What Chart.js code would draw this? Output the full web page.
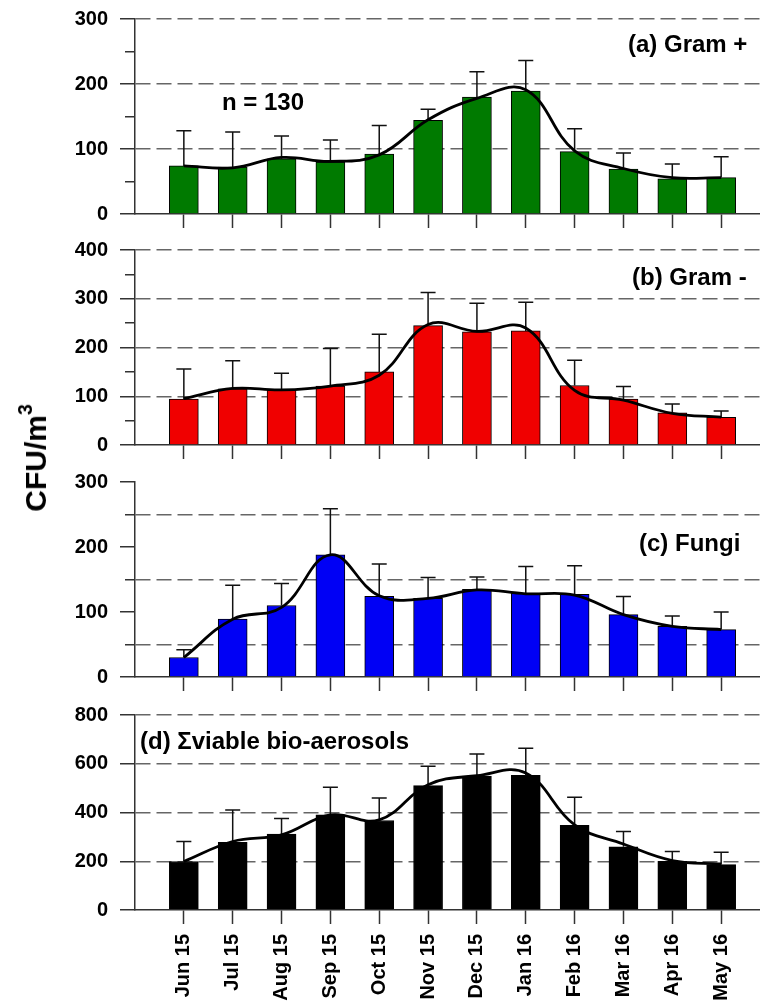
<!DOCTYPE html>
<html>
<head>
<meta charset="utf-8">
<script src="https://cdn.jsdelivr.net/npm/chart.js@4.4.1/dist/chart.umd.min.js"></script>
<style>
  html, body { margin: 0; padding: 0; background: #fff; }
  #wrap { position: relative; width: 760px; height: 1006px; overflow: hidden;
          font-family: "Liberation Sans", Arial, sans-serif; }
  canvas { position: absolute; left: 0; }
  .lbl { position: absolute; font-weight: bold; font-size: 24px; line-height: 24px;
         white-space: nowrap; color: #000; }
  #ytitle { position: absolute; left: 36px; top: 458px; font-weight: bold; font-size: 30px;
            line-height: 30px; white-space: nowrap;
            transform: translate(-50%, -50%) rotate(-90deg); }
  #ytitle sup { font-size: 0.65em; vertical-align: 0.7em; line-height: 0; }
</style>
</head>
<body>
<div id="wrap">
  <canvas id="pa" width="780" height="243" style="top:-5px"></canvas>
  <canvas id="pb" width="780" height="243" style="top:226px"></canvas>
  <canvas id="pc" width="780" height="243" style="top:458px"></canvas>
  <canvas id="pd" width="780" height="315" style="top:691px"></canvas>

  <div class="lbl" style="left:628px; top:32px">(a) Gram +</div>
  <div class="lbl" style="left:222px; top:90px">n = 130</div>
  <div class="lbl" style="left:632px; top:265px">(b) Gram -</div>
  <div class="lbl" style="left:639px; top:531px">(c) Fungi</div>
  <div class="lbl" style="left:140px; top:729px">(d) &Sigma;viable bio-aerosols</div>
  <div id="ytitle">CFU/m<sup>3</sup></div>
</div>

<script>
// monthly means, upper error (sd) and smoothed curve
const months = ["Jun 15", "Jul 15", "Aug 15", "Sep 15", "Oct 15", "Nov 15",
                "Dec 15", "Jan 16", "Feb 16", "Mar 16", "Apr 16", "May 16"];

const gramPos    = [74, 72, 85, 80, 92, 144, 180, 189, 96, 69, 54, 56];
const gramPosSd  = [54, 54, 35, 34, 44, 17, 39, 47, 35, 25, 23, 32];
const gramPosFit = [74, 71, 87, 81, 91, 145, 178, 191, 97, 70, 56, 56];

const gramNeg    = [94, 115, 113, 121, 150, 245, 232, 234, 122, 94, 66, 57];
const gramNegSd  = [62, 58, 34, 77, 77, 68, 59, 59, 52, 26, 18, 13];
const gramNegFit = [95, 116, 113, 121, 143, 247, 233, 240, 112, 92, 65, 57];

const fungi      = [30, 89, 110, 188, 124, 121, 135, 129, 127, 96, 78, 73];
const fungiSd    = [12, 52, 34, 71, 50, 32, 19, 41, 44, 28, 16, 27];
const fungiFit   = [30, 89, 107, 188, 125, 121, 134, 128, 126, 96, 78, 73];

const total      = [199, 278, 311, 390, 367, 510, 549, 552, 347, 259, 200, 186];
const totalSd    = [82, 132, 64, 114, 93, 80, 91, 112, 116, 63, 40, 51];
const totalFit   = [199, 281, 308, 390, 370, 514, 551, 562, 349, 271, 203, 189];

const FONT = '"Liberation Sans", Arial, sans-serif';
Chart.defaults.font.family = FONT;

// upward error bars drawn right after the bars
const errorBars = {
  id: "errorBars",
  afterDatasetDraw(chart, args) {
    if (args.index !== 0) return;
    const xs = chart.scales.x, ys = chart.scales.y;
    const ds = chart.data.datasets[0];
    const ctx = chart.ctx;
    ctx.save();
    ctx.strokeStyle = "#111";
    ctx.lineWidth = 1.5;
    ds.data.forEach(function (p, i) {
      const x = xs.getPixelForValue(p.x);
      const y0 = ys.getPixelForValue(p.y);
      const y1 = ys.getPixelForValue(p.y + ds.errors[i]);
      ctx.beginPath();
      ctx.moveTo(x, y0);
      ctx.lineTo(x, y1);
      ctx.moveTo(x - 7.5, y1);
      ctx.lineTo(x + 7.5, y1);
      ctx.stroke();
    });
    ctx.restore();
  }
};

function makePanel(id, vals, sd, fit, color, yMax, step, labelEvery, dashOnMinor, showMonths) {
  const bottomH = showMonths ? 96 : 24;
  const isDashed = function (v) {
    if (v <= 0) return false;
    const major = v % labelEvery === 0;
    return dashOnMinor ? !major : major;
  };

  new Chart(document.getElementById(id), {
    type: "bar",
    data: {
      datasets: [
        {
          type: "bar",
          data: vals.map((v, i) => ({ x: i, y: v })),
          errors: sd,
          backgroundColor: color,
          borderColor: "#000",
          borderWidth: 1,
          barThickness: 29,
          order: 1
        },
        {
          type: "line",
          data: fit.map((v, i) => ({ x: i, y: v })),
          borderColor: "#000",
          borderWidth: 2.8,
          pointRadius: 0,
          tension: 0.4,
          fill: false,
          order: 0
        }
      ]
    },
    options: {
      responsive: false,
      animation: false,
      layout: { padding: { top: 24, right: 10, bottom: 0, left: 0 } },
      plugins: { legend: { display: false }, tooltip: { enabled: false } },
      scales: {
        x: {
          type: "linear",
          min: -1,
          max: 12,
          offset: false,
          afterBuildTicks: function (s) {
            s.ticks = s.ticks.filter(t => t.value >= 0 && t.value <= 11);
          },
          afterFit: function (s) { s.height = bottomH; },
          ticks: {
            stepSize: 1,
            display: showMonths,
            autoSkip: false,
            minRotation: 90,
            maxRotation: 90,
            padding: 10,
            color: "#000",
            font: { size: 20, weight: "bold" },
            callback: v => months[v]
          },
          grid: { offset: false, drawOnChartArea: false, drawTicks: true, tickLength: 14,
                  tickColor: "#333", tickWidth: 1.5 },
          border: { display: true, color: "#333", width: 1.5 }
        },
        y: {
          min: 0,
          max: yMax,
          afterFit: function (s) { s.width = 135; },
          ticks: {
            stepSize: step,
            padding: 12,
            color: "#000",
            font: { size: 20, weight: "bold" },
            callback: v => (v % labelEvery === 0 ? v : "")
          },
          grid: {
            color: c => (c.tick && isDashed(c.tick.value) ? "#666" : "rgba(0,0,0,0)"),
            lineWidth: 1.5,
            tickLength: 15,
            tickColor: "#333",
            tickWidth: 1.5,
            tickBorderDash: c => (c.tick && c.tick.value % labelEvery !== 0 ? [0, 5, 10, 100] : [])
          },
          border: { display: true, color: "#333", width: 1.5,
                    dash: c => (c.tick ? [15, 6] : []) }
        }
      }
    },
    plugins: [errorBars]
  });
}

makePanel("pa", gramPos, gramPosSd, gramPosFit, "#007a00", 300, 50, 100, false, false);
makePanel("pb", gramNeg, gramNegSd, gramNegFit, "#f00000", 400, 50, 100, false, false);
makePanel("pc", fungi, fungiSd, fungiFit, "#0000f5", 300, 50, 100, true, false);
makePanel("pd", total, totalSd, totalFit, "#000000", 800, 100, 200, false, true);
</script>
</body>
</html>
